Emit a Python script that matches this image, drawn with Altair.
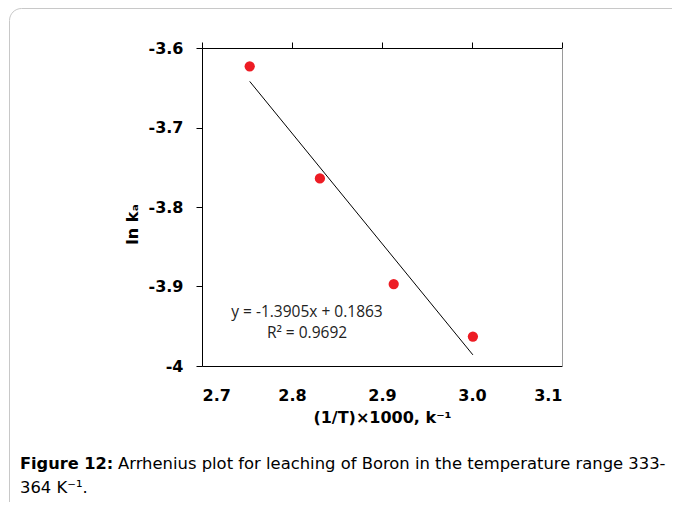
import altair as alt
import pandas as pd

# Data
inv_T = [2.753, 2.831, 2.913, 3.001]
ln_k = [-3.623, -3.764, -3.897, -3.963]
trend_x = [2.753, 3.001]
trend_y = [-3.642, -3.986]
x_ticks = [2.7, 2.8, 2.9, 3.0, 3.1]
y_ticks = [-4.0, -3.9, -3.8, -3.7, -3.6]
eq_lines = ["y = -1.3905x + 0.1863", "R² = 0.9692"]
caption_bold = "Figure 12:"
caption_rest = "Arrhenius plot for leaching of Boron in the temperature range 333-"
caption_line2 = "364 K⁻¹."

pts = pd.DataFrame({"x": inv_T, "y": ln_k})
trend = pd.DataFrame({"x": trend_x, "y": trend_y})
one = pd.DataFrame({"d": [0]})

FONT = "DejaVu Sans"
xs = alt.Scale(domain=[2.7, 3.1], nice=False, zero=False)
ys = alt.Scale(domain=[-4.0, -3.6], nice=False, zero=False)

x_bottom = alt.X("x:Q", scale=xs, title="(1/T)×1000, k⁻¹",
                 axis=alt.Axis(values=x_ticks, format=".1f", ticks=False, tickSize=0,
                               labelPadding=21, grid=False, domainColor="#000",
                               labelFont=FONT, labelFontWeight="bold", labelFontSize=16,
                               labelColor="#000", titleFont=FONT, titleFontWeight="bold",
                               titleFontSize=16, titleColor="#000", titlePadding=6))
y_left = alt.Y("y:Q", scale=ys, title="ln kₐ",
               axis=alt.Axis(values=y_ticks, ticks=True, tickSize=6, tickColor="#000",
                             labelPadding=13, grid=False, domainColor="#000",
                             labelExpr="datum.value < -3.95 ? '-4' : '-' + format(abs(datum.value), '.1f')",
                             labelFont=FONT, labelFontWeight="bold", labelFontSize=16,
                             labelColor="#000", titleFont=FONT, titleFontWeight="bold",
                             titleFontSize=16, titleColor="#000",
                             titleX=-70, titleY=176, titleBaseline="middle"))

points = alt.Chart(pts).mark_circle(size=105, color="#ED1C24", opacity=1).encode(
    x=x_bottom, y=y_left)

line = alt.Chart(trend).mark_line(color="#000", strokeWidth=1).encode(
    x=alt.X("x:Q", scale=xs, axis=None), y=alt.Y("y:Q", scale=ys, axis=None))

# top axis (ticks only) and right axis (grey line)
top_axis = alt.Chart(pts).mark_point(opacity=0).encode(
    x=alt.X("x:Q", scale=xs, axis=alt.Axis(orient="top", values=x_ticks, labels=False,
                                             ticks=True, tickSize=6, tickColor="#000",
                                             domainColor="#000", grid=False, title=None)),
    y=alt.Y("y:Q", scale=ys, axis=alt.Axis(orient="right", values=y_ticks, labels=False,
                                             ticks=False, domainColor="#9a9a9a", grid=False,
                                             title=None)))

eq_df = pd.DataFrame({"t": eq_lines, "i": [0, 1]})
eq1 = alt.Chart(eq_df.iloc[[0]]).mark_text(font="Open Sans", fontSize=15.5, color="#222",
                                           align="center", baseline="middle").encode(
    text="t:N", x=alt.value(105), y=alt.value(264))
eq2 = alt.Chart(eq_df.iloc[[1]]).mark_text(font="Open Sans", fontSize=15.5, color="#222",
                                           align="center", baseline="middle").encode(
    text="t:N", x=alt.value(105), y=alt.value(285))

border = alt.Chart(one).mark_rect(fill="transparent", stroke="#c8c8c8", strokeWidth=1,
                                  cornerRadius=12).encode(
    x=alt.value(-192.5), x2=alt.value(700), y=alt.value(-39.5), y2=alt.value(600))

cap_df = pd.DataFrame({"a": [caption_bold], "b": [caption_rest], "c": [caption_line2]})
cap1 = alt.Chart(cap_df).mark_text(font=FONT, fontSize=16.2, fontWeight="bold", color="#000",
                                   align="left", baseline="alphabetic").encode(
    text="a:N", x=alt.value(-182), y=alt.value(421))
cap2 = alt.Chart(cap_df).mark_text(font=FONT, fontSize=16.4, color="#000",
                                   align="left", baseline="alphabetic").encode(
    text="b:N", x=alt.value(-84), y=alt.value(421))
cap3 = alt.Chart(cap_df).mark_text(font=FONT, fontSize=16.4, color="#000",
                                   align="left", baseline="alphabetic").encode(
    text="c:N", x=alt.value(-182), y=alt.value(445))

chart = alt.layer(border, top_axis, line, points, eq1, eq2, cap1, cap2, cap3).resolve_axis(
    x="independent", y="independent").properties(
    width=360, height=318,
    autosize=alt.AutoSizeParams(type="none"),
    padding={"left": 194, "top": 40, "right": 110, "bottom": 136},
    background="white",
).configure_view(stroke=None)

chart.save("out.html", embed_options={"renderer": "svg", "actions": False})
